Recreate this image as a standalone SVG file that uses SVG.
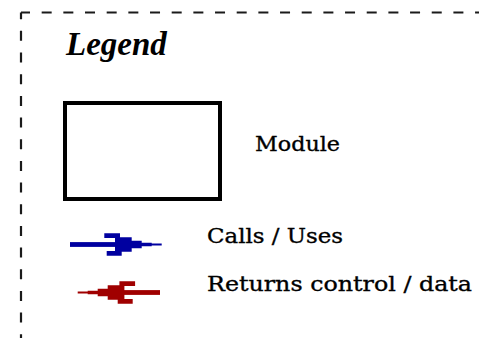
<svg xmlns="http://www.w3.org/2000/svg" xmlns:xlink="http://www.w3.org/1999/xlink" width="479" height="338" viewBox="0 0 479 338">
  <style>
    .frame { fill: none; stroke: #1a1a1a; stroke-width: 2.2; stroke-dasharray: 10 11.67; }
    .title { font-family: "Liberation Serif", "Times New Roman", serif; font-weight: bold; font-style: italic; font-size: 33px; fill: #000; }
    .label { font-family: "DejaVu Serif", "Liberation Serif", serif; font-size: 21px; fill: #000; stroke: #000; stroke-width: 0.35; }
    .module { fill: #fff; stroke: #000; stroke-width: 4; }
    .calls { fill: #0000a0; }
    .returns { fill: #a00000; }
  </style>
  <defs>
    <!-- stepped, barbed arrowhead pointing right, tip at origin -->
    <path id="head" d="M -57.4 -11.2 H -41.7 V -7.2 H -30 V -3.8 H -20 V -1.8 H -10 V -1.1 H 0 V 1.1 H -10 V 1.8 H -20 V 3.8 H -30 V 7.2 H -40 V 11.2 H -55 V 6.5 H -46.7 V -6.5 H -57.4 Z"/>
  </defs>

  <!-- dashed legend frame (open to the right and bottom) -->
  <g id="frame">
    <line class="frame" x1="21" y1="12.5" x2="21" y2="338" stroke-dashoffset="3.3"/>
    <line class="frame" x1="21" y1="12.5" x2="479" y2="12.5" stroke-dashoffset="1"/>
  </g>

  <g id="legend-title">
    <text class="title" x="66" y="55">Legend</text>
  </g>

  <g id="module">
    <rect class="module" x="65" y="103" width="155" height="96"/>
    <text class="label" x="255" y="151" font-size="22" textLength="85" lengthAdjust="spacingAndGlyphs">Module</text>
  </g>

  <g id="connectors">
    <g id="calls-arrow" class="calls">
      <rect x="70" y="242.1" width="46" height="4.8"/>
      <use xlink:href="#head" href="#head" transform="translate(161.7 244.5)"/>
    </g>
    <g id="returns-arrow" class="returns">
      <rect x="123" y="290.1" width="37" height="4.8"/>
      <use xlink:href="#head" href="#head" transform="translate(77.7 292.5) scale(-1 1)"/>
    </g>
  </g>

  <g id="calls-label">
    <text class="label" x="207" y="243.3" textLength="136" lengthAdjust="spacingAndGlyphs">Calls / Uses</text>
  </g>
  <g id="returns-label">
    <text class="label" x="207" y="290.5" textLength="265" lengthAdjust="spacingAndGlyphs">Returns control / data</text>
  </g>
</svg>
